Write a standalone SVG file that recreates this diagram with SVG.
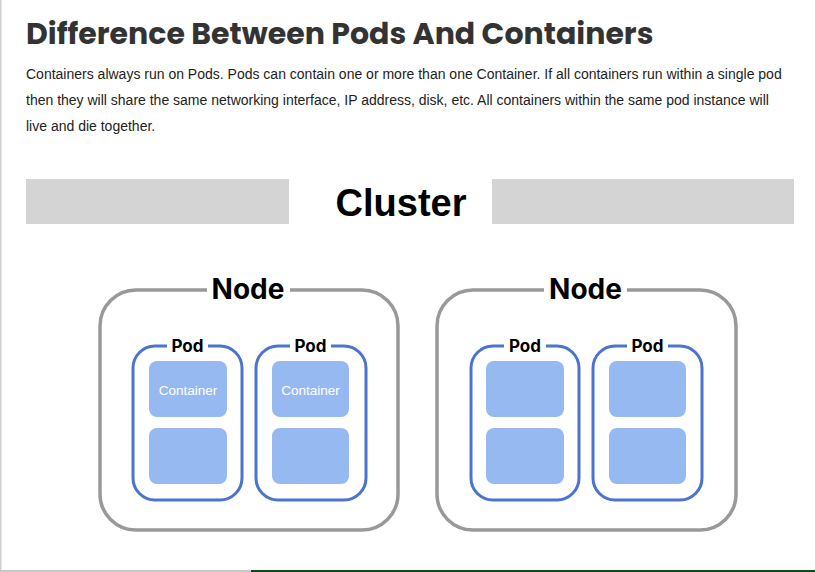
<svg xmlns="http://www.w3.org/2000/svg" width="815" height="572" viewBox="0 0 815 572">
<style>
.title{font-family:Poppins,Inter,"Liberation Sans",sans-serif;font-weight:700;font-size:30px;fill:#333333}
.para{font-family:"Liberation Sans",Arial,sans-serif;font-size:14px;fill:#222222}
.cluster{font-family:"Liberation Sans",Arial,sans-serif;font-weight:700;font-size:38px;fill:#000}
.node{fill:none;stroke:#999999;stroke-width:3.5}
.nlabel{font-family:Inter,"Liberation Sans",sans-serif;font-weight:700;font-size:28px;fill:#000;text-anchor:middle}
.pod{fill:none;stroke:#4a74d0;stroke-width:3}
.plabel{font-family:Inter,"Liberation Sans",sans-serif;font-weight:700;font-size:17px;fill:#000;text-anchor:middle}
.ctr{fill:#97b9f2}
.ctext{font-family:"Liberation Sans",Arial,sans-serif;font-size:13.5px;fill:#ffffff;text-anchor:middle}
.bar{fill:#d4d4d4}
</style>
<rect width="815" height="572" fill="#fff"/>
<rect x="0" y="0" width="1.5" height="572" fill="#d0d0d0"/>
<rect x="0" y="570" width="251" height="2" fill="#c8c8c8"/>
<rect x="251" y="570" width="564" height="2" fill="#0b4d12"/>
<text class="title" x="26" y="44">Difference Between Pods And Containers</text>
<text class="para" x="26" y="79">Containers always run on Pods. Pods can contain one or more than one Container. If all containers run within a single pod</text>
<text class="para" x="26" y="105">then they will share the same networking interface, IP address, disk, etc. All containers within the same pod instance will</text>
<text class="para" x="26" y="131">live and die together.</text>
<g id="cluster">
<rect class="bar" x="26" y="179" width="263" height="45"/>
<rect class="bar" x="492" y="179" width="302" height="45"/>
<text class="cluster" x="401" y="216" text-anchor="middle">Cluster</text>
</g>
<g id="node1">
<path class="node" d="M207,290 H136 A36,36 0 0 0 100,326 V494 A36,36 0 0 0 136,530 H362 A36,36 0 0 0 398,494 V326 A36,36 0 0 0 362,290 H290"/>
<text class="nlabel" x="248" y="299">Node</text>
</g>
<g id="pod1">
<path class="pod" d="M167,346 H155 A22,22 0 0 0 133,368 V478 A22,22 0 0 0 155,500 H220 A22,22 0 0 0 242,478 V368 A22,22 0 0 0 220,346 H208"/>
<text class="plabel" x="187.5" y="352">Pod</text>
<rect class="ctr" x="149" y="361" width="78" height="56" rx="8"/>
<text class="ctext" x="188" y="395">Container</text>
<rect class="ctr" x="149" y="428" width="78" height="56" rx="8"/>
</g>
<g id="pod2">
<path class="pod" d="M290,346 H278 A22,22 0 0 0 256,368 V478 A22,22 0 0 0 278,500 H344 A22,22 0 0 0 366,478 V368 A22,22 0 0 0 344,346 H331"/>
<text class="plabel" x="310.5" y="352">Pod</text>
<rect class="ctr" x="272" y="361" width="77" height="56" rx="8"/>
<text class="ctext" x="310.5" y="395">Container</text>
<rect class="ctr" x="272" y="428" width="77" height="56" rx="8"/>
</g>
<g id="node2">
<path class="node" d="M544,290 H473 A36,36 0 0 0 437,326 V494 A36,36 0 0 0 473,530 H700 A36,36 0 0 0 736,494 V326 A36,36 0 0 0 700,290 H627"/>
<text class="nlabel" x="585.5" y="299">Node</text>
</g>
<g id="pod3">
<path class="pod" d="M504,346 H493 A22,22 0 0 0 471,368 V478 A22,22 0 0 0 493,500 H557 A22,22 0 0 0 579,478 V368 A22,22 0 0 0 557,346 H546"/>
<text class="plabel" x="525" y="352">Pod</text>
<rect class="ctr" x="486" y="361" width="78" height="56" rx="8"/>
<rect class="ctr" x="486" y="428" width="78" height="56" rx="8"/>
</g>
<g id="pod4">
<path class="pod" d="M627,346 H615 A22,22 0 0 0 593,368 V478 A22,22 0 0 0 615,500 H680 A22,22 0 0 0 702,478 V368 A22,22 0 0 0 680,346 H668"/>
<text class="plabel" x="647.5" y="352">Pod</text>
<rect class="ctr" x="609" y="361" width="77" height="56" rx="8"/>
<rect class="ctr" x="609" y="428" width="77" height="56" rx="8"/>
</g>
<g id="connectors"></g>
</svg>
